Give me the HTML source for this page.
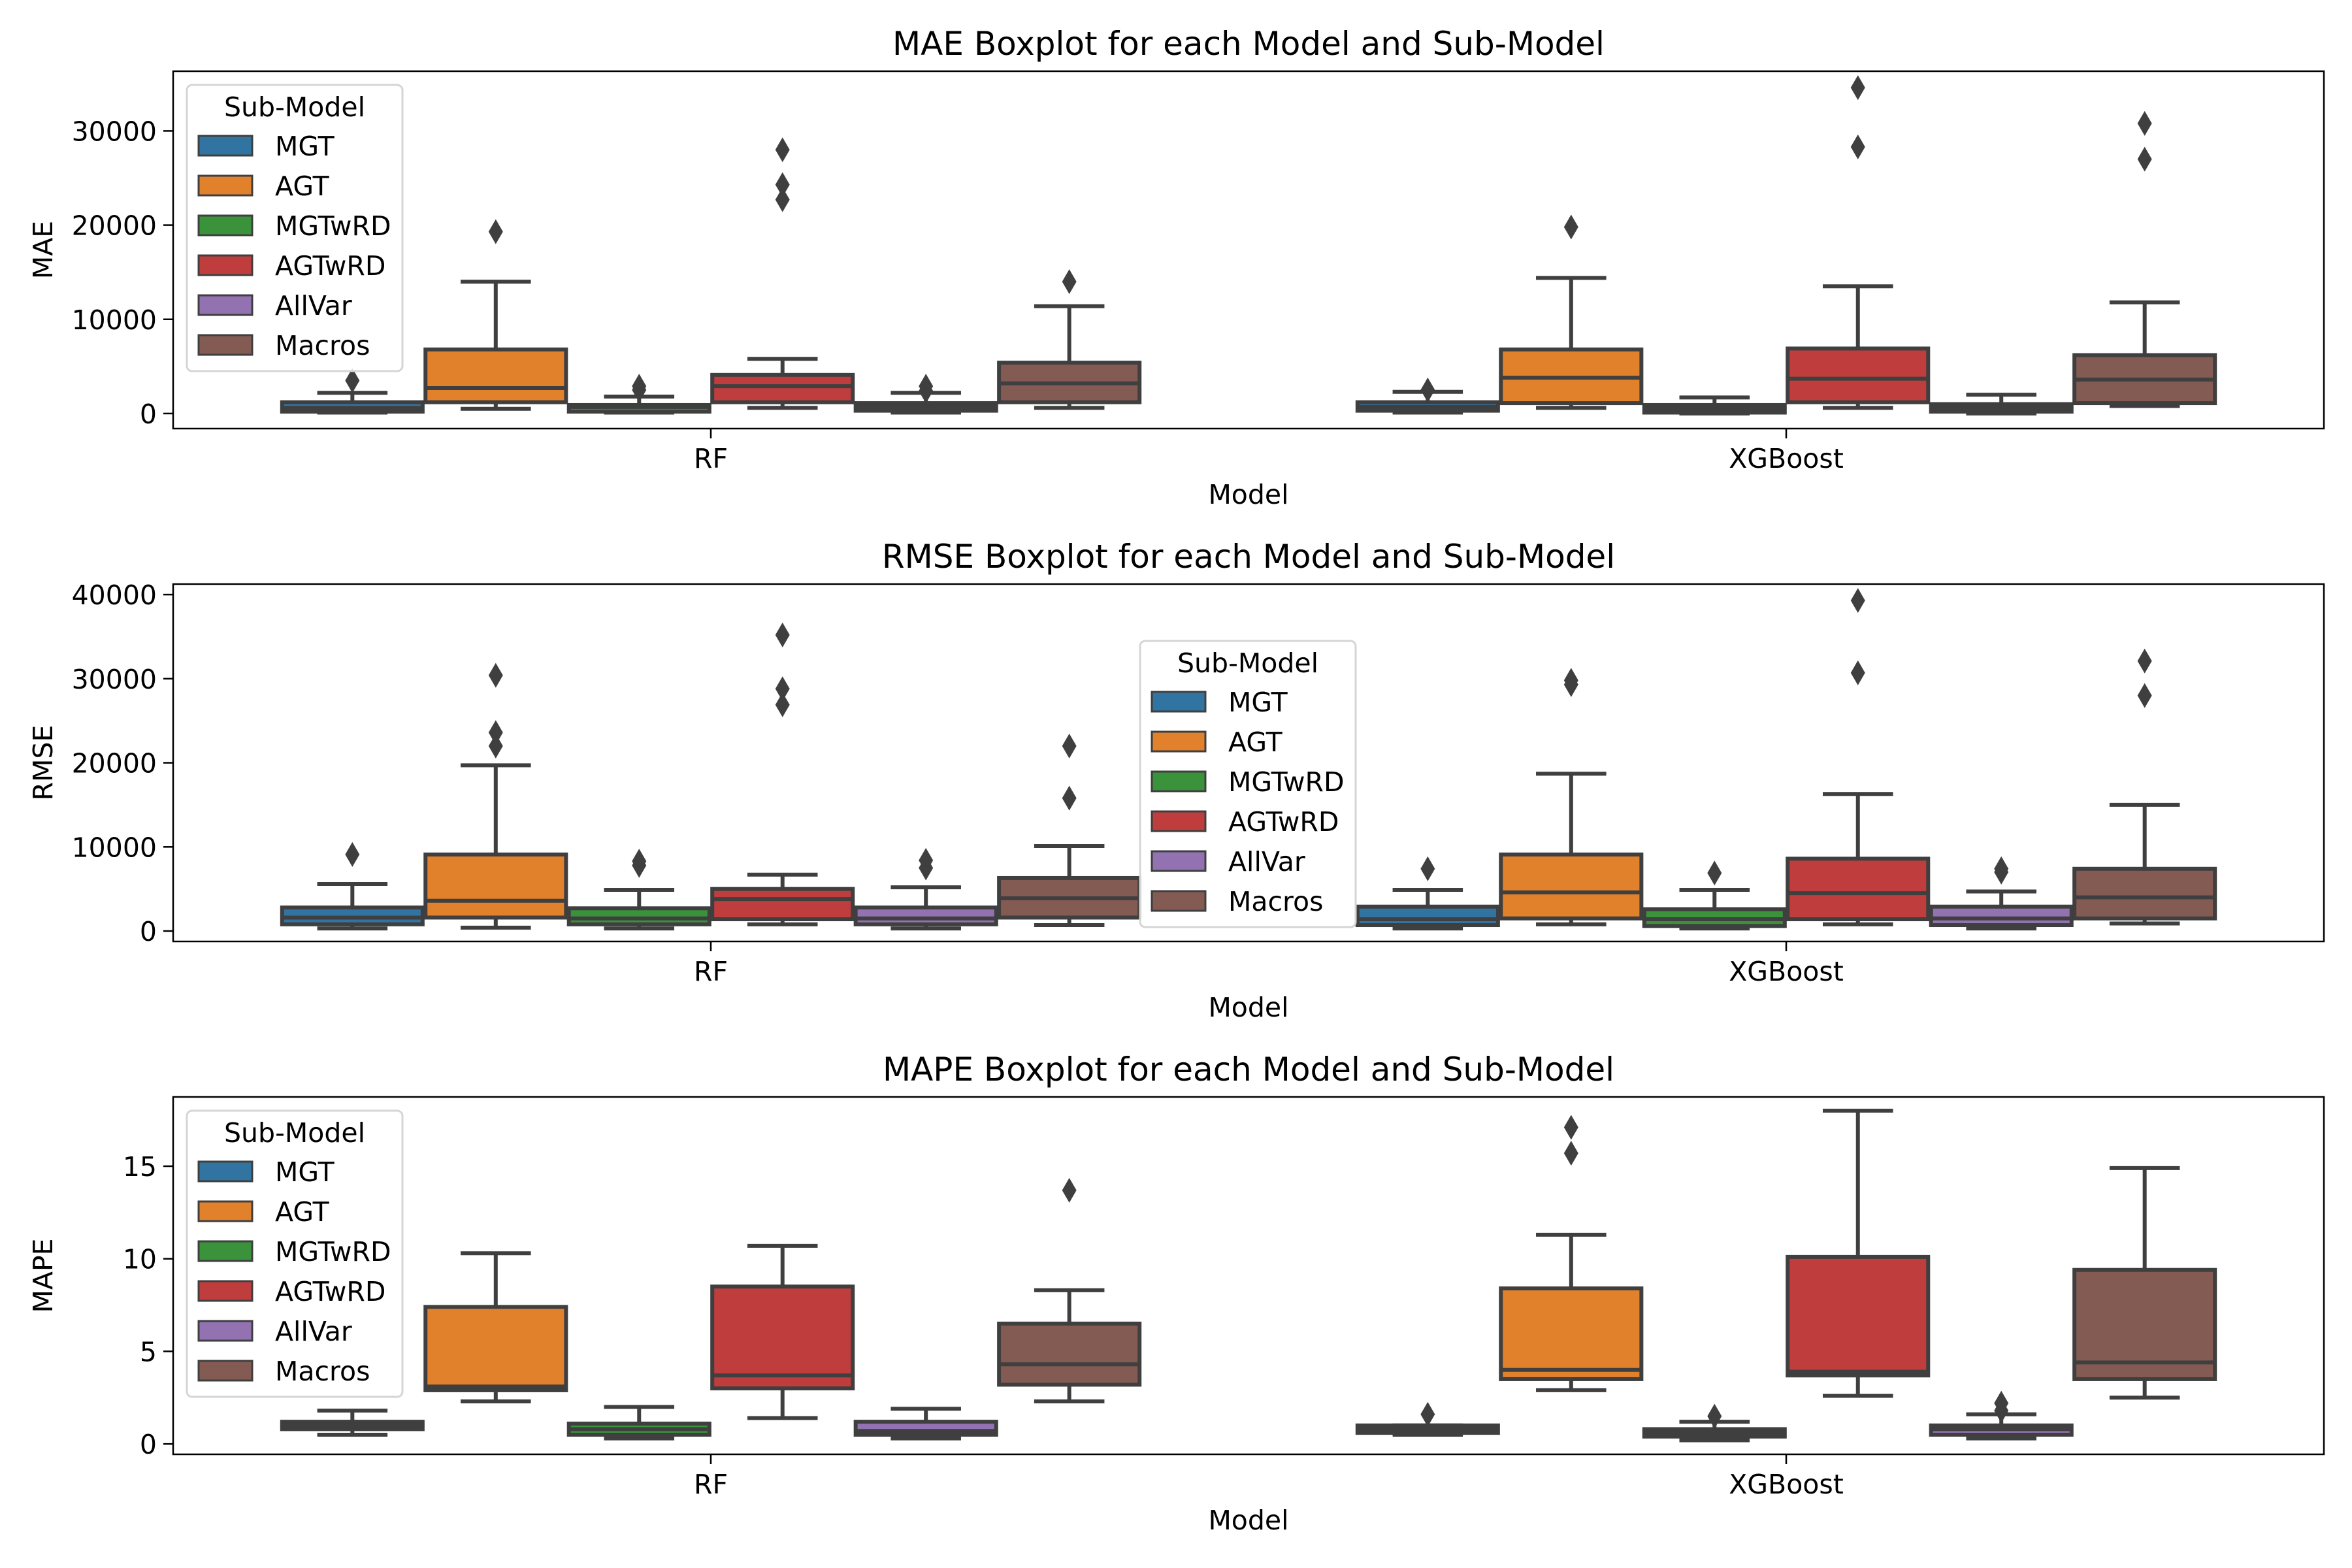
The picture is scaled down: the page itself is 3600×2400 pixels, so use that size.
<!DOCTYPE html>
<html><head><meta charset="utf-8"><style>
html,body{margin:0;padding:0;background:#fff;}
svg{display:block;font-family:"DejaVu Sans","Liberation Sans",sans-serif;}
</style></head><body>
<svg id="fig" width="3600" height="2400" viewBox="0 0 3600 2400" xmlns="http://www.w3.org/2000/svg"></svg>
<script>
const categories = ["RF", "XGBoost"];
const subModels = ["MGT", "AGT", "MGTwRD", "AGTwRD", "AllVar", "Macros"];
const colors = ["#3274a1", "#e1812c", "#3a923a", "#c03d3e", "#9372b2", "#845b53"];

// [whiskerLow, q1, median, q3, whiskerHigh] per category, per sub-model
const maeStats = [
  [[100,200,600,1200,2200],[500,1200,2700,6800,14000],[100,200,700,900,1800],[600,1200,2900,4100,5800],[100,300,700,1100,2200],[600,1200,3200,5400,11400]],
  [[100,300,700,1200,2300],[600,1100,3800,6800,14400],[0,100,500,900,1700],[600,1200,3700,6900,13500],[0,200,600,1000,2000],[800,1100,3600,6200,11800]]
];
const maeOutliers = [
  [[3500],[19300],[2500,2900],[22700,24300,28000],[2400,2900],[14000]],
  [[2500],[19800],[],[28300,34600],[],[27000,30800]]
];
const rmseStats = [
  [[300,800,1600,2800,5600],[400,1600,3600,9100,19700],[300,800,1500,2700,4900],[800,1400,3800,5000,6700],[300,800,1500,2800,5200],[700,1600,3900,6300,10100]],
  [[300,700,1400,2900,4900],[800,1500,4600,9100,18700],[300,600,1400,2600,4900],[800,1400,4500,8600,16300],[300,700,1500,2900,4700],[900,1500,4000,7400,15000]]
];
const rmseOutliers = [
  [[9100],[22000,23600,30400],[7800,8300],[26900,28800,35200],[7500,8400],[15800,22000]],
  [[7400],[29300,29800],[6900],[30700,39300],[7000,7400],[28000,32100]]
];
const mapeStats = [
  [[0.5,0.8,1.0,1.2,1.8],[2.3,2.9,3.1,7.4,10.3],[0.3,0.5,0.8,1.1,2.0],[1.4,3.0,3.7,8.5,10.7],[0.3,0.5,0.7,1.2,1.9],[2.3,3.2,4.3,6.5,8.3]],
  [[0.5,0.6,0.8,1.0,1.0],[2.9,3.5,4.0,8.4,11.3],[0.2,0.4,0.6,0.8,1.2],[2.6,3.7,3.9,10.1,18.0],[0.3,0.5,0.8,1.0,1.6],[2.5,3.5,4.4,9.4,14.9]]
];
const mapeOutliers = [
  [[],[],[],[],[],[13.7]],
  [[1.6],[15.7,17.1],[1.5],[],[1.8,2.2],[]]
];
const maeTicks = [0,10000,20000,30000];
const rmseTicks = [0,10000,20000,30000,40000];
const mapeTicks = [0,5,10,15];

const NS = "http://www.w3.org/2000/svg";
const svg = document.getElementById("fig");
function mk(tag, attrs, parent){
  const e = document.createElementNS(NS, tag);
  for (const k in attrs) e.setAttribute(k, attrs[k]);
  (parent||svg).appendChild(e);
  return e;
}
const AX_L = 265, AX_R = 3557, W = AX_R - AX_L;
const LINE = "#3f3f3f";
const FS = 41, TFS = 50;

function panel(cfg){
  const top = cfg.top, bottom = cfg.top + 547;
  const g = mk("g", {});
  
  
  const y = v => bottom - (v - cfg.ymin) / (cfg.ymax - cfg.ymin) * (bottom - top);
  const x = c => AX_L + (c + 0.5) / 2 * W;
  const unit = W / 2;
  const hueW = 0.8 / 6 * unit;
  const t = mk("text", {x: (AX_L+AX_R)/2, y: top - 25, "text-anchor":"middle", "font-size":TFS, fill:"#000"}, g);
  t.textContent = cfg.title;
  
  
  cfg.ticks.forEach(v => {
    const ty = y(v);
    mk("line", {x1: AX_L-15, x2: AX_L, y1: ty, y2: ty, stroke:"#000", "stroke-width":2.5}, g);
    const lab = mk("text", {x: AX_L-25, y: ty+15, "text-anchor":"end", "font-size":FS, fill:"#000"}, g);
    lab.textContent = String(v);
    
    
  });
  const yl = mk("text", {x: 0, y: 0, transform: `translate(80,${(top+bottom)/2}) rotate(-90)`, "text-anchor":"middle", "font-size":FS, fill:"#000"}, g);
  yl.textContent = cfg.ylabel;
  
  
  categories.forEach((c, ci) => {
    mk("line", {x1: x(ci), x2: x(ci), y1: bottom, y2: bottom+15, stroke:"#000", "stroke-width":2.5}, g);
    const lab = mk("text", {x: x(ci), y: bottom+60, "text-anchor":"middle", "font-size":FS, fill:"#000"}, g);
    lab.textContent = c;
    
    
  });
  const xl = mk("text", {x: (AX_L+AX_R)/2, y: bottom+115, "text-anchor":"middle", "font-size":FS, fill:"#000"}, g);
  xl.textContent = "Model";
  
  
  categories.forEach((c, ci) => {
    subModels.forEach((s, si) => {
      const st = cfg.stats[ci][si];
      const cx = x(ci) - 0.4*unit + (si + 0.5) * hueW;
      const bw = hueW * 0.98;
      const bg = mk("g", {}, g);
      
      
      mk("line", {x1: cx, x2: cx, y1: y(st[0]), y2: y(st[1]), stroke: LINE, "stroke-width":6}, bg);
      mk("line", {x1: cx, x2: cx, y1: y(st[3]), y2: y(st[4]), stroke: LINE, "stroke-width":6}, bg);
      mk("line", {x1: cx-bw/4, x2: cx+bw/4, y1: y(st[0]), y2: y(st[0]), stroke: LINE, "stroke-width":6}, bg);
      mk("line", {x1: cx-bw/4, x2: cx+bw/4, y1: y(st[4]), y2: y(st[4]), stroke: LINE, "stroke-width":6}, bg);
      mk("rect", {x: cx-bw/2, y: y(st[3]), width: bw, height: Math.max(0.5, y(st[1]) - y(st[3])), fill: colors[si], stroke: LINE, "stroke-width":6}, bg);
      mk("line", {x1: cx-bw/2, x2: cx+bw/2, y1: y(st[2]), y2: y(st[2]), stroke: LINE, "stroke-width":6}, bg);
      cfg.outliers[ci][si].forEach(v => {
        const oy = y(v);
        const d = mk("path", {d: `M${cx},${oy-19} L${cx+11},${oy} L${cx},${oy+19} L${cx-11},${oy} Z`, fill: LINE}, bg);
        
        
      });
    });
  });
  mk("rect", {x: AX_L, y: top, width: W, height: bottom-top, fill:"none", stroke:"#000", "stroke-width":2.5}, g);
  const lx = cfg.legX, ly = cfg.legY;
  const lg = mk("g", {}, g);
  
  
  mk("rect", {x: lx, y: ly, width: 330, height: 438, rx: 8, fill:"#fff", "fill-opacity":0.85, stroke:"#d5d5d5", "stroke-width":3}, lg);
  const lt = mk("text", {x: lx+165, y: ly+48, "text-anchor":"middle", "font-size":FS, fill:"#000"}, lg);
  lt.textContent = "Sub-Model";
  
  
  subModels.forEach((s, si) => {
    const ey = ly + 93 + si*61;
    const eg = mk("g", {}, lg);
    
    
    mk("rect", {x: lx+18, y: ey-15, width: 82, height: 30, fill: colors[si], stroke: LINE, "stroke-width":3}, eg);
    const et = mk("text", {x: lx+135, y: ey+15, "font-size":FS, fill:"#000"}, eg);
    et.textContent = s;
  });
}

panel({key:"mae", top:109, ymin:-1600, ymax:36340, ticks:maeTicks, stats:maeStats, outliers:maeOutliers, title:"MAE Boxplot for each Model and Sub-Model", ylabel:"MAE", legX:286, legY:130});
panel({key:"rmse", top:894, ymin:-1240, ymax:41250, ticks:rmseTicks, stats:rmseStats, outliers:rmseOutliers, title:"RMSE Boxplot for each Model and Sub-Model", ylabel:"RMSE", legX:1745, legY:981});
panel({key:"mape", top:1679, ymin:-0.56, ymax:18.74, ticks:mapeTicks, stats:mapeStats, outliers:mapeOutliers, title:"MAPE Boxplot for each Model and Sub-Model", ylabel:"MAPE", legX:286, legY:1700});
</script>
</body></html>
